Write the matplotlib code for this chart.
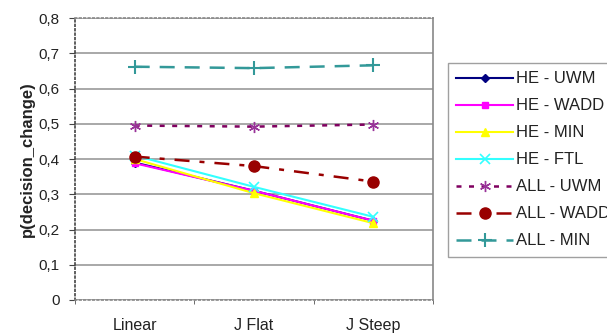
import numpy as np
import matplotlib
matplotlib.use('Agg')
import matplotlib.pyplot as plt

plt.rcParams['font.family'] = ['Liberation Sans', 'DejaVu Sans']

categories = ['Linear', 'J Flat', 'J Steep']
he_uwm = [0.390, 0.310, 0.225]
he_wadd = [0.388, 0.310, 0.225]
he_min = [0.400, 0.303, 0.218]
he_ftl = [0.410, 0.321, 0.236]
all_uwm = [0.495, 0.492, 0.498]
all_wadd = [0.407, 0.380, 0.336]
all_min = [0.662, 0.658, 0.666]
yticks = [0, 0.1, 0.2, 0.3, 0.4, 0.5, 0.6, 0.7, 0.8]
ytick_labels = ['0', '0,1', '0,2', '0,3', '0,4', '0,5', '0,6', '0,7', '0,8']

fig = plt.figure(figsize=(6.07, 3.35), dpi=100)
ax = fig.add_axes([0.1236, 0.1045, 0.5897, 0.8415])
x = np.arange(len(categories))

ax.plot(x, he_uwm, color='#000080', marker='D', ms=4, lw=1.5, label='HE - UWM')
ax.plot(x, he_wadd, color='#ff00ff', marker='s', ms=4, lw=1.5, label='HE - WADD')
ax.plot(x, he_min, color='#ffff00', marker='^', ms=6, lw=1.5, label='HE - MIN')
ax.plot(x, he_ftl, color='#33ffff', marker='x', ms=7, mew=1.2, lw=1.5, label='HE - FTL')
ax.plot(x, all_uwm, color='#800060', marker=(6, 2, 0), ms=8, mew=1.0,
        mec='#993399', lw=1.8, ls=(0, (2, 3)), label='ALL - UWM')
ax.plot(x, all_wadd, color='#990000', marker='o', ms=8, lw=1.8,
        ls=(0, (6, 4, 2, 4)), label='ALL - WADD')
ax.plot(x, all_min, color='#339999', marker='+', ms=10, mew=1.5, lw=1.8,
        ls=(0, (6, 4)), label='ALL - MIN')

ax.set_xlim(-0.5, 2.5)
ax.set_ylim(0, 0.8)
ax.set_yticks(yticks)
ax.set_yticklabels(ytick_labels)
ax.set_xticks(x)
ax.set_xticklabels(categories)
ax.set_xticks([-0.5, 0.5, 1.5, 2.5], minor=True)
ax.tick_params(axis='x', which='major', length=0, pad=13, labelsize=11.5, colors='#222222')
ax.tick_params(axis='x', which='minor', length=3, direction='out', color='#555555')
ax.tick_params(axis='y', length=4, direction='out', pad=7, labelsize=11, colors='#222222', color='#444444')
ax.yaxis.grid(True, color='#999999', lw=1.2)
ax.set_axisbelow(True)
for s in ['top', 'right', 'bottom']:
    ax.spines[s].set_color('#888888')
    ax.spines[s].set_linestyle(':')
    ax.spines[s].set_linewidth(1.2)
ax.spines['right'].set_linestyle('-')
ax.spines['left'].set_color('#444444')
ax.spines['left'].set_linestyle(':')
ax.spines['left'].set_linewidth(1.2)
ax.set_ylabel('p(decision_change)', fontsize=12, fontweight='bold', color='#222222', labelpad=3)

leg = ax.legend(loc='upper left', bbox_to_anchor=(448 / 607, 1 - 63 / 335),
                bbox_transform=fig.transFigure, fontsize=12, frameon=True,
                fancybox=False, edgecolor='#888888', handlelength=3.4,
                handletextpad=0.15, labelspacing=0.72, borderpad=0.5, borderaxespad=0)
leg.get_frame().set_linewidth(1.0)
for t in leg.get_texts():
    t.set_color('#222222')

fig.savefig('out.png', dpi=100)
